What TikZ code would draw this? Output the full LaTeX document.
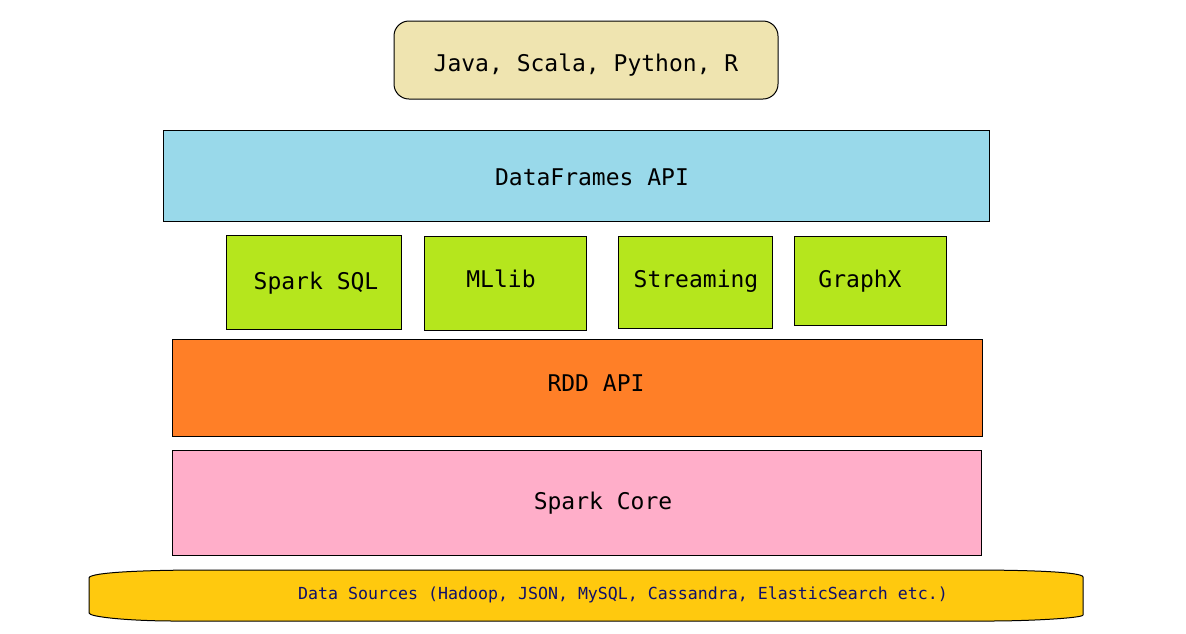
\documentclass[tikz,border=0pt]{standalone}
\usepackage{fontspec}
\newfontfamily\dvmono{DejaVu Sans Mono}
\definecolor{tan}{HTML}{EFE4B0}
\definecolor{skyb}{HTML}{99D9EA}
\definecolor{limeg}{HTML}{B5E61D}
\definecolor{orng}{HTML}{FF7F27}
\definecolor{pinkc}{HTML}{FFAEC9}
\definecolor{goldc}{HTML}{FFC90E}
\definecolor{navyt}{HTML}{10106A}
\begin{document}
\begin{tikzpicture}[x=1pt,y=-1pt,
  box/.style={draw=black,line width=1pt,inner sep=0pt,outer sep=0pt},
  txt/.style={anchor=base,inner sep=0pt,font=\dvmono\fontsize{23}{27}\selectfont,text=black},
  smalltxt/.style={anchor=base,inner sep=0pt,font=\dvmono\fontsize{16.6}{20}\selectfont,text=navyt}]
\useasboundingbox[fill=white] (0,0) rectangle (1186,633);
% boxes
\node[box,fill=tan,rounded corners=15pt,minimum width=384pt,minimum height=78pt] (lang) at (586,60) {};
\node[box,fill=skyb,minimum width=826pt,minimum height=91pt] (df) at (576,175.5) {};
\node[box,fill=limeg,minimum width=175pt,minimum height=94pt] (sql) at (313.5,282) {};
\node[box,fill=limeg,minimum width=162pt,minimum height=94pt] (ml) at (505,283) {};
\node[box,fill=limeg,minimum width=154pt,minimum height=92pt] (st) at (695,282) {};
\node[box,fill=limeg,minimum width=152pt,minimum height=89pt] (gx) at (870,280.5) {};
\node[box,fill=orng,minimum width=810pt,minimum height=97pt] (rdd) at (577,387.5) {};
\node[box,fill=pinkc,minimum width=809pt,minimum height=105pt] (core) at (576.5,502.5) {};
% data sources shape
\draw[line width=1pt,fill=goldc] (89,578) .. controls (89,572) and (150,570) .. (205,570) -- (970,570)
  .. controls (1030,570) and (1083,572) .. (1083,577) -- (1083,615)
  .. controls (1083,618) and (1030,621) .. (990,621) -- (175,621)
  .. controls (130,621) and (89,617) .. (89,613) -- cycle;
% texts
\node[txt] (langt) at (586,71) {Java, Scala, Python, R};
\node[txt] (dft) at (592,185) {DataFrames API};
\node[txt] (sqlt) at (316,289) {Spark SQL};
\node[txt] (mlt) at (501,287) {MLlib};
\node[txt] (stt) at (696,287) {Streaming};
\node[txt] (gxt) at (860,287) {GraphX};
\node[txt] (rddt) at (596,391) {RDD API};
\node[txt] (coret) at (603,509) {Spark Core};
\node[smalltxt] (dst) at (623,599) {Data Sources (Hadoop, JSON, MySQL, Cassandra, ElasticSearch etc.)};
\end{tikzpicture}
\end{document}
